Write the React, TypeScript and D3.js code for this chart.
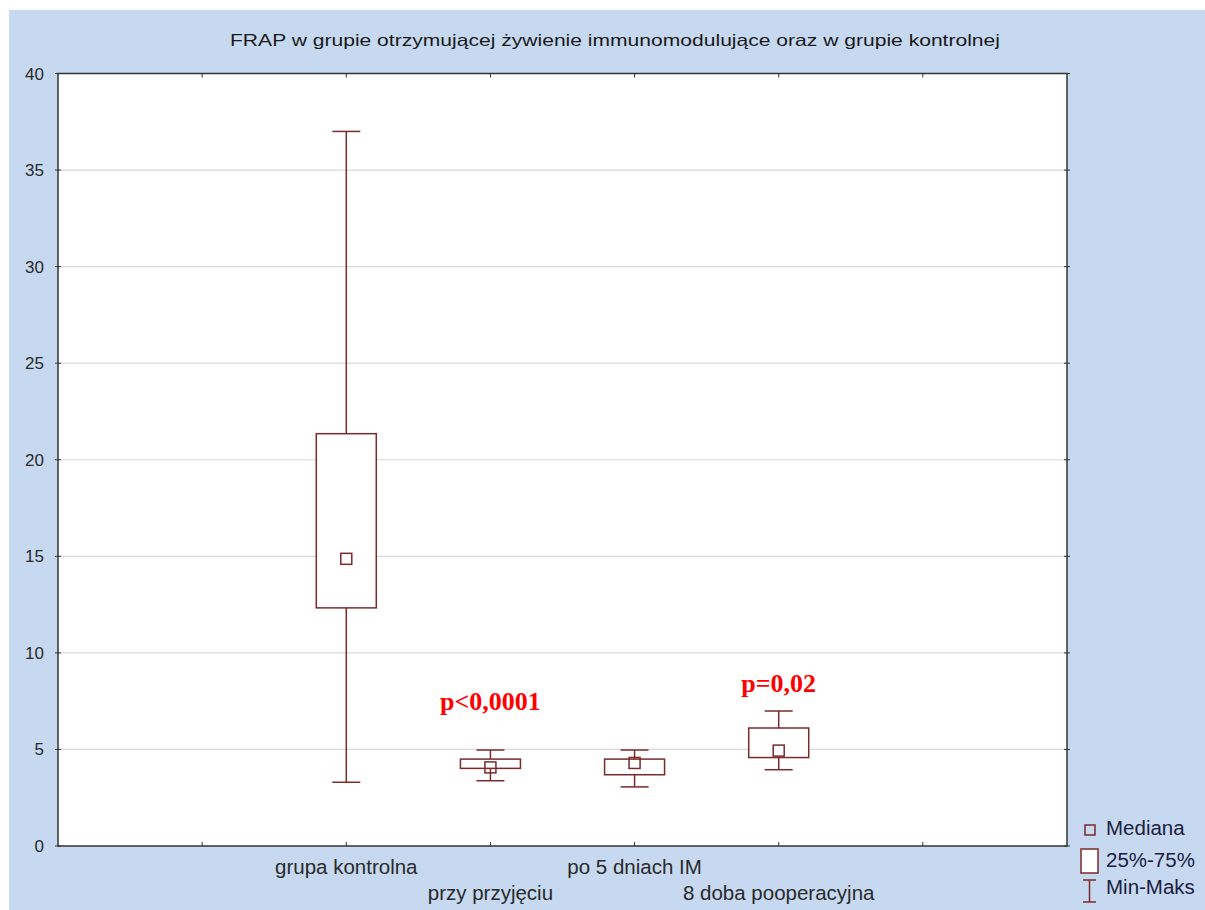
import React from "react";
import * as d3 from "d3";

const categories = ["grupa kontrolna", "przy przyjęciu", "po 5 dniach IM", "8 doba pooperacyjna"];
const positions = [2, 3, 4, 5];
const mins = [3.3, 3.38, 3.06, 3.95];
const q1s = [12.33, 4.02, 3.69, 4.58];
const medians = [14.87, 4.07, 4.3, 4.94];
const q3s = [21.35, 4.5, 4.5, 6.11];
const maxs = [37.0, 4.97, 4.97, 6.99];
const yTicks = [0, 5, 10, 15, 20, 25, 30, 35, 40];
const xTicks = [1, 2, 3, 4, 5, 6];
const pLabels = [
  { pos: 3, value: 7.04, text: "p<0,0001" },
  { pos: 5, value: 7.97, text: "p=0,02" },
];
const title = "FRAP w grupie otrzymującej żywienie immunomodulujące oraz w grupie kontrolnej";

const W = 1205;
const H = 910;
const M = { left: 58, right: 1067, top: 73.5, bottom: 846 };
const COL = "#7a2a2a";
const FONT = "Arial, 'Liberation Sans', sans-serif";

export default function App() {
  const x = d3.scaleLinear().domain([0, 7]).range([M.left, M.right]);
  const y = d3.scaleLinear().domain([0, 40]).range([M.bottom, M.top]);
  const boxW = 60;
  const capW = 28;
  const med = 11;

  return (
    <svg width={W} height={H} style={{ position: "absolute", left: 0, top: 0 }}>
      <rect x={0} y={0} width={W} height={H} fill="#ffffff" />
      <rect x={9} y={10} width={W - 9} height={H - 10} fill="#c6d9f0" />
      <text x={615} y={46} textAnchor="middle" fontFamily={FONT} fontSize={16.5} fill="#1a1a1a"
        textLength={770} lengthAdjust="spacingAndGlyphs">{title}</text>
      <rect x={M.left} y={M.top} width={M.right - M.left} height={M.bottom - M.top} fill="#ffffff" />
      {yTicks.filter((t) => t > 0 && t < 40).map((t) => (
        <line key={"g" + t} x1={M.left} x2={M.right} y1={y(t)} y2={y(t)} stroke="#d8d8d8" strokeWidth={1.2} />
      ))}
      {yTicks.map((t) => (
        <g key={"yt" + t}>
          <line x1={M.left - 3} x2={M.left + 3} y1={y(t)} y2={y(t)} stroke="#333" strokeWidth={1} />
          <line x1={M.right - 3} x2={M.right + 3} y1={y(t)} y2={y(t)} stroke="#333" strokeWidth={1} />
          <text x={44} y={y(t) + 6} textAnchor="end" fontFamily={FONT} fontSize={17} fill="#2a2a2a">{t}</text>
        </g>
      ))}
      {xTicks.map((t) => (
        <g key={"xt" + t}>
          <line x1={x(t)} x2={x(t)} y1={M.top} y2={M.top + 4} stroke="#333" strokeWidth={1} />
          <line x1={x(t)} x2={x(t)} y1={M.bottom} y2={M.bottom - 4} stroke="#333" strokeWidth={1} />
        </g>
      ))}
      <rect x={M.left} y={M.top} width={M.right - M.left} height={M.bottom - M.top} fill="none" stroke="#333" strokeWidth={1.5} />
      {categories.map((c, i) => {
        const cx = x(positions[i]);
        return (
          <g key={c}>
            <line x1={cx} x2={cx} y1={y(maxs[i])} y2={y(q3s[i])} stroke={COL} strokeWidth={1.5} />
            <line x1={cx} x2={cx} y1={y(q1s[i])} y2={y(mins[i])} stroke={COL} strokeWidth={1.5} />
            <line x1={cx - capW / 2} x2={cx + capW / 2} y1={y(maxs[i])} y2={y(maxs[i])} stroke={COL} strokeWidth={1.5} />
            <line x1={cx - capW / 2} x2={cx + capW / 2} y1={y(mins[i])} y2={y(mins[i])} stroke={COL} strokeWidth={1.5} />
            <rect x={cx - boxW / 2} y={y(q3s[i])} width={boxW} height={y(q1s[i]) - y(q3s[i])} fill="#ffffff" stroke={COL} strokeWidth={1.5} />
            <rect x={cx - med / 2} y={y(medians[i]) - med / 2} width={med} height={med} fill="none" stroke={COL} strokeWidth={1.5} />
            <text x={cx} y={i % 2 === 0 ? 874 : 900} textAnchor="middle" fontFamily={FONT} fontSize={20.5} fill="#2a2a2a">{c}</text>
          </g>
        );
      })}
      {pLabels.map((p) => (
        <text key={p.text} x={x(p.pos)} y={y(p.value)} textAnchor="middle" fontFamily="'Liberation Serif', 'Times New Roman', serif"
          fontWeight="bold" fontSize={26} fill="#ff0000">{p.text}</text>
      ))}
      <g>
        <rect x={1085} y={825} width={10} height={10} fill="none" stroke={COL} strokeWidth={1.5} />
        <text x={1106} y={835} fontFamily={FONT} fontSize={20.5} fill="#1a2040">Mediana</text>
        <rect x={1081} y={849} width={17} height={24} fill="#ffffff" stroke={COL} strokeWidth={1.5} />
        <text x={1106} y={867} fontFamily={FONT} fontSize={20.5} fill="#1a2040">25%-75%</text>
        <line x1={1089.5} x2={1089.5} y1={880} y2={902} stroke={COL} strokeWidth={1.5} />
        <line x1={1083} x2={1096} y1={880} y2={880} stroke={COL} strokeWidth={1.5} />
        <line x1={1083} x2={1096} y1={902} y2={902} stroke={COL} strokeWidth={1.5} />
        <text x={1106} y={894} fontFamily={FONT} fontSize={20.5} fill="#1a2040">Min-Maks</text>
      </g>
    </svg>
  );
}
